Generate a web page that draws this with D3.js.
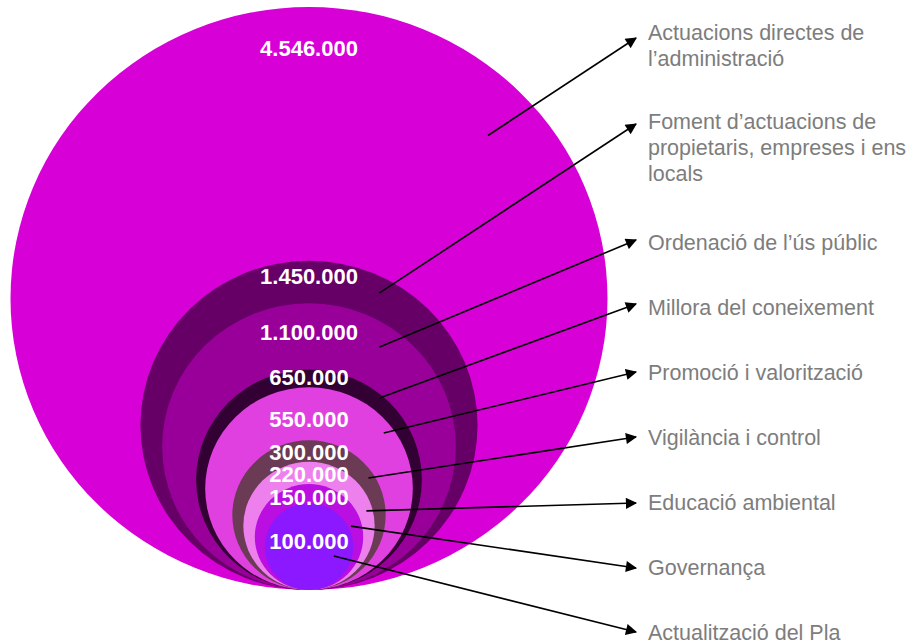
<!DOCTYPE html>
<html>
<head>
<meta charset="utf-8">
<script src="https://cdn.jsdelivr.net/npm/d3@7"></script>
<style>
  body { margin: 0; background: #fff; }
  svg { display: block; }
  .val { font-family: Arial, "Liberation Sans", sans-serif; font-weight: bold; font-size: 22px; fill: #fff; }
  .cat { font-family: Arial, "Liberation Sans", sans-serif; font-size: 21.5px; fill: #7d7d7d; }
</style>
</head>
<body>
<svg id="chart" width="914" height="643"></svg>
<script>
// budget per action line (euros)
var categories = [
    ["Actuacions directes de", "l\u2019administració"],
    ["Foment d\u2019actuacions de", "propietaris, empreses i ens", "locals"],
    ["Ordenació de l\u2019ús públic"],
    ["Millora del coneixement"],
    ["Promoció i valorització"],
    ["Vigilància i control"],
    ["Educació ambiental"],
    ["Governança"],
    ["Actualització del Pla"]
];
var values = [4546000, 1450000, 1100000, 650000, 550000, 300000, 220000, 150000, 100000];
var colors = ["#d700d6", "#660066", "#990099", "#330033", "#e040e0", "#6b3a55", "#ee80ee", "#bb0ee0", "#8b18ff"];

// layout bits
var bottomY = 590, cx = 309, maxR = 291.5, stretch = 1.024;
var labelOffset = [41, 15, 29, 8, 32, 12, 12, 13, 38];   // value label centre below circle top
var anchorAngle = [47, 27.5, 34.7, 40.1, 52.7, 57.4, 75, 75, 111];
var anchorFrac = [0.82, 0.907, 0.845, 0.97, 0.905, 0.92, 0.905, 0.80, 0.6];
var tipX = 636;
var tipY = [38, 124, 240, 304, 372, 437, 503, 568, 632];
var textX = 648;
var textY = [40, 129, 250, 315, 380, 445, 510, 575, 640];
var lineH = 26;

var svg = d3.select('#chart');

var fmt = d3.formatLocale({decimal: ",", thousands: ".", grouping: [3], currency: ["", " €"]}).format(",d");

var rScale = d3.scaleSqrt()
    .domain([0, d3.max(values)])
    .range([0, maxR]);

var defs = svg.append("defs");
defs.append("marker")
    .attr("id", "arrow")
    .attr("viewBox", "0 0 10 10")
    .attr("refX", 9)
    .attr("refY", 5)
    .attr("markerWidth", 7.5)
    .attr("markerHeight", 7)
    .attr("markerUnits", "strokeWidth")
    .attr("orient", "auto")
    .append("path")
    .attr("d", "M0,0 L10,5 L0,10 z")
    .attr("fill", "#000");

var data = values.map(function(v, i) {
    var r = rScale(v);
    return {value: v, i: i, r: r, cy: bottomY - r};
});

svg.append("g")
    .selectAll("ellipse")
    .data(data)
    .enter()
    .append("ellipse")
    .attr("cx", cx)
    .attr("cy", function(d){ return d.cy; })
    .attr("rx", function(d){ return d.r * stretch; })
    .attr("ry", function(d){ return d.r; })
    .attr("fill", function(d){ return colors[d.i]; });

// leader lines
svg.append("g")
    .selectAll("line")
    .data(data)
    .enter()
    .append("line")
    .attr("x1", function(d){
        var a = anchorAngle[d.i] * Math.PI / 180;
        return cx + Math.sin(a) * d.r * anchorFrac[d.i] * stretch;
    })
    .attr("y1", function(d){
        var a = anchorAngle[d.i] * Math.PI / 180;
        return d.cy - Math.cos(a) * d.r * anchorFrac[d.i];
    })
    .attr("x2", tipX)
    .attr("y2", function(d){ return tipY[d.i]; })
    .attr("stroke", "#000")
    .attr("stroke-width", 1.6)
    .attr("marker-end", "url(#arrow)");

// value labels
svg.append("g")
    .selectAll("text")
    .data(data)
    .enter()
    .append("text")
    .attr("class", "val")
    .attr("x", cx)
    .attr("y", function(d){ return d.cy - d.r + labelOffset[d.i]; })
    .attr("dy", "0.36em")
    .attr("text-anchor", "middle")
    .text(function(d){ return fmt(d.value); });

// category labels
var cat = svg.append("g")
    .selectAll("text")
    .data(categories)
    .enter()
    .append("text")
    .attr("class", "cat")
    .attr("x", textX)
    .attr("y", function(d, i){ return textY[i]; });

cat.selectAll("tspan")
    .data(function(d){ return d; })
    .enter()
    .append("tspan")
    .attr("x", textX)
    .attr("dy", function(d, j){ return j == 0 ? 0 : lineH; })
    .text(function(d){ return d; });
</script>
</body>
</html>
